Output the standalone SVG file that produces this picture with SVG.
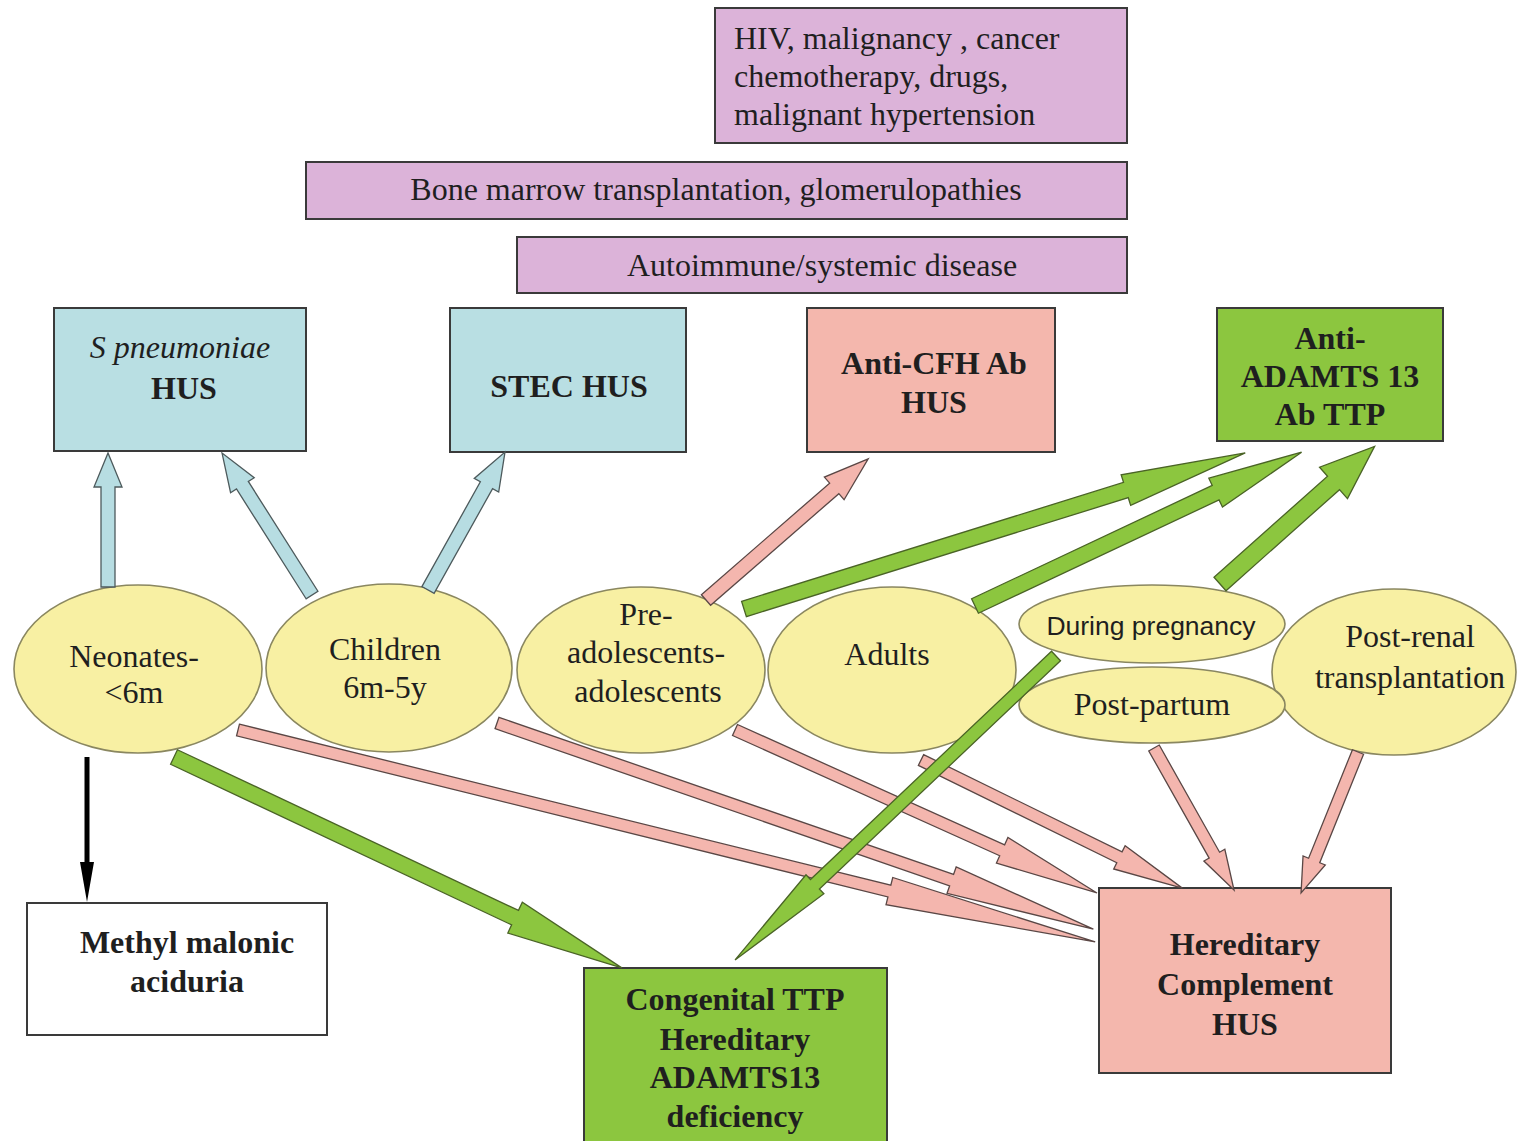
<svg xmlns="http://www.w3.org/2000/svg" width="1518" height="1141" viewBox="0 0 1518 1141">
  <style>
    .serif { font-family: "Liberation Serif", "Times New Roman", serif; fill: #1f1f1f; }
    .sans { font-family: "Liberation Sans", Arial, sans-serif; fill: #1f1f1f; }
    .b { font-weight: bold; }
    .t32 { font-size: 32px; }
    .mid { text-anchor: middle; }
    .box { stroke: #3a3a3a; stroke-width: 2; }
    .purple { fill: #dcb3d9; }
    .blue { fill: #b9dfe3; }
    .salmon { fill: #f4b7ad; }
    .green { fill: #8cc63f; }
    .white { fill: #ffffff; }
    .age { fill: #f8f0a3; stroke: #8a8760; stroke-width: 1.6; }
    .a-blue { fill: #b7dde2; stroke: #4d5a5c; stroke-width: 1.3; }
    .a-pink { fill: #f4b6ae; stroke: #5a4745; stroke-width: 1.3; }
    .a-green { fill: #8cc63f; stroke: #4a6326; stroke-width: 1.3; }
    .a-black { fill: #000000; }
  </style>

  <rect width="1518" height="1141" fill="#ffffff"/>

  <!-- Secondary causes -->
  <g id="secondary-causes">
    <rect class="box purple" x="715" y="8" width="412" height="135"/>
    <text class="serif t32" x="734" y="49">HIV, malignancy , cancer</text>
    <text class="serif t32" x="734" y="87">chemotherapy, drugs,</text>
    <text class="serif t32" x="734" y="125">malignant hypertension</text>
  </g>
  <g id="bmt-glomerulopathies">
    <rect class="box purple" x="306" y="162" width="821" height="57"/>
    <text class="serif t32 mid" x="716" y="200">Bone marrow transplantation, glomerulopathies</text>
  </g>
  <g id="autoimmune">
    <rect class="box purple" x="517" y="237" width="610" height="56"/>
    <text class="serif t32 mid" x="822" y="276">Autoimmune/systemic disease</text>
  </g>

  <!-- Disease boxes, top row -->
  <g id="spneumoniae-hus">
    <rect class="box blue" x="54" y="308" width="252" height="143"/>
    <text class="serif t32 mid" x="180" y="358" font-style="italic">S pneumoniae</text>
    <text class="serif t32 b mid" x="184" y="399">HUS</text>
  </g>
  <g id="stec-hus">
    <rect class="box blue" x="450" y="308" width="236" height="144"/>
    <text class="serif t32 b mid" x="569" y="397">STEC HUS</text>
  </g>
  <g id="anti-cfh-hus">
    <rect class="box salmon" x="807" y="308" width="248" height="144"/>
    <text class="serif t32 b mid" x="934" y="374">Anti-CFH Ab</text>
    <text class="serif t32 b mid" x="934" y="413">HUS</text>
  </g>
  <g id="anti-adamts13-ttp">
    <rect class="box green" x="1217" y="308" width="226" height="133"/>
    <text class="serif t32 b mid" x="1330" y="349">Anti-</text>
    <text class="serif t32 b mid" x="1330" y="387">ADAMTS 13</text>
    <text class="serif t32 b mid" x="1330" y="425">Ab TTP</text>
  </g>

  <!-- Age groups / settings -->
  <g id="neonates">
    <ellipse class="age" cx="138" cy="669" rx="124" ry="84"/>
    <text class="serif t32 mid" x="134" y="667">Neonates-</text>
    <text class="serif t32 mid" x="134" y="703">&lt;6m</text>
  </g>
  <g id="children">
    <ellipse class="age" cx="389" cy="668" rx="123" ry="84"/>
    <text class="serif t32 mid" x="385" y="660">Children</text>
    <text class="serif t32 mid" x="385" y="698">6m-5y</text>
  </g>
  <g id="adolescents">
    <ellipse class="age" cx="641" cy="670" rx="124" ry="83"/>
    <text class="serif t32 mid" x="646" y="625">Pre-</text>
    <text class="serif t32 mid" x="646" y="663">adolescents-</text>
    <text class="serif t32 mid" x="648" y="702">adolescents</text>
  </g>
  <g id="adults">
    <ellipse class="age" cx="892" cy="670" rx="124" ry="83"/>
    <text class="serif t32 mid" x="887" y="665">Adults</text>
  </g>
  <g id="post-renal-transplant">
    <ellipse class="age" cx="1394" cy="672" rx="122" ry="83"/>
    <text class="serif t32 mid" x="1410" y="647">Post-renal</text>
    <text class="serif t32 mid" x="1410" y="688">transplantation</text>
  </g>
  <g id="pregnancy">
    <ellipse class="age" cx="1152" cy="624" rx="133" ry="39"/>
    <text class="sans mid" x="1151" y="635" font-size="26.5">During pregnancy</text>
  </g>
  <g id="post-partum">
    <ellipse class="age" cx="1152" cy="705" rx="133" ry="38"/>
    <text class="serif t32 mid" x="1152" y="715">Post-partum</text>
  </g>

  <!-- Disease boxes, bottom row -->
  <g id="methylmalonic-aciduria">
    <rect class="box white" x="27" y="903" width="300" height="132"/>
    <text class="serif t32 b mid" x="187" y="953">Methyl malonic</text>
    <text class="serif t32 b mid" x="187" y="992">aciduria</text>
  </g>
  <g id="congenital-ttp">
    <rect class="box green" x="584" y="968" width="303" height="180"/>
    <text class="serif t32 b mid" x="735" y="1010">Congenital TTP</text>
    <text class="serif t32 b mid" x="735" y="1050">Hereditary</text>
    <text class="serif t32 b mid" x="735" y="1088">ADAMTS13</text>
    <text class="serif t32 b mid" x="735" y="1127">deficiency</text>
  </g>
  <g id="hereditary-complement-hus">
    <rect class="box salmon" x="1099" y="888" width="292" height="185"/>
    <text class="serif t32 b mid" x="1245" y="955">Hereditary</text>
    <text class="serif t32 b mid" x="1245" y="995">Complement</text>
    <text class="serif t32 b mid" x="1245" y="1035">HUS</text>
  </g>

  <!-- Connectors: block arrows laid out along +x, then moved to tail point and rotated -->
  <g id="connectors">
    <!-- infection-related HUS -->
    <polygon class="a-blue" transform="translate(108 587) rotate(-90)" points="0,-7 100,-7 100,-14 134,0 100,14 100,7 0,7"/>
    <polygon class="a-blue" transform="translate(312 595) rotate(-122.37)" points="0,-7 130,-7 130,-14 168,0 130,14 130,7 0,7"/>
    <polygon class="a-blue" transform="translate(428 590) rotate(-60.84)" points="0,-7 120,-7 120,-14 158,0 120,14 120,7 0,7"/>

    <!-- complement-mediated HUS -->
    <polygon class="a-pink" transform="translate(706 600) rotate(-41.03)" points="0,-7 170,-7 170,-15 215,0 170,15 170,7 0,7"/>
    <polygon class="a-pink" transform="translate(238 730) rotate(13.89)" points="0,-6 671,-6 671,-14 883,0 671,14 671,6 0,6"/>
    <polygon class="a-pink" transform="translate(497 723) rotate(19.07)" points="0,-6 481,-6 481,-14 631,0 481,14 481,6 0,6"/>
    <polygon class="a-pink" transform="translate(735 730) rotate(24.24)" points="0,-6 293,-6 293,-14 397,0 293,14 293,6 0,6"/>
    <polygon class="a-pink" transform="translate(921 760) rotate(26.12)" points="0,-6 221,-6 221,-13 291,0 221,13 221,6 0,6"/>
    <polygon class="a-pink" transform="translate(1154 748) rotate(60.6)" points="0,-6 123,-6 123,-12 163,0 123,12 123,6 0,6"/>
    <polygon class="a-pink" transform="translate(1358 752) rotate(112)" points="0,-6 117,-6 117,-12 152,0 117,12 117,6 0,6"/>

    <!-- TTP -->
    <polygon class="a-green" transform="translate(744 609) rotate(-17.3)" points="0,-8 400,-8 400,-16 525,0 400,16 400,8 0,8"/>
    <polygon class="a-green" transform="translate(975 606) rotate(-25.22)" points="0,-8 266,-8 266,-16 361,0 266,16 266,8 0,8"/>
    <polygon class="a-green" transform="translate(1220 584) rotate(-41.68)" points="0,-9 152,-9 152,-21 207,0 152,21 152,9 0,9"/>
    <polygon class="a-green" transform="translate(174 757) rotate(25.22)" points="0,-8 377,-8 377,-17 495,0 377,17 377,8 0,8"/>
    <polygon class="a-green" transform="translate(1056 656) rotate(136.56)" points="0,-6.5 332,-6.5 332,-13 442,0 332,13 332,6.5 0,6.5"/>

    <!-- metabolic -->
    <polygon class="a-black" transform="translate(87 757) rotate(90)" points="0,-2.5 105,-2.5 105,-7 145,0 105,7 105,2.5 0,2.5"/>
  </g>
</svg>
